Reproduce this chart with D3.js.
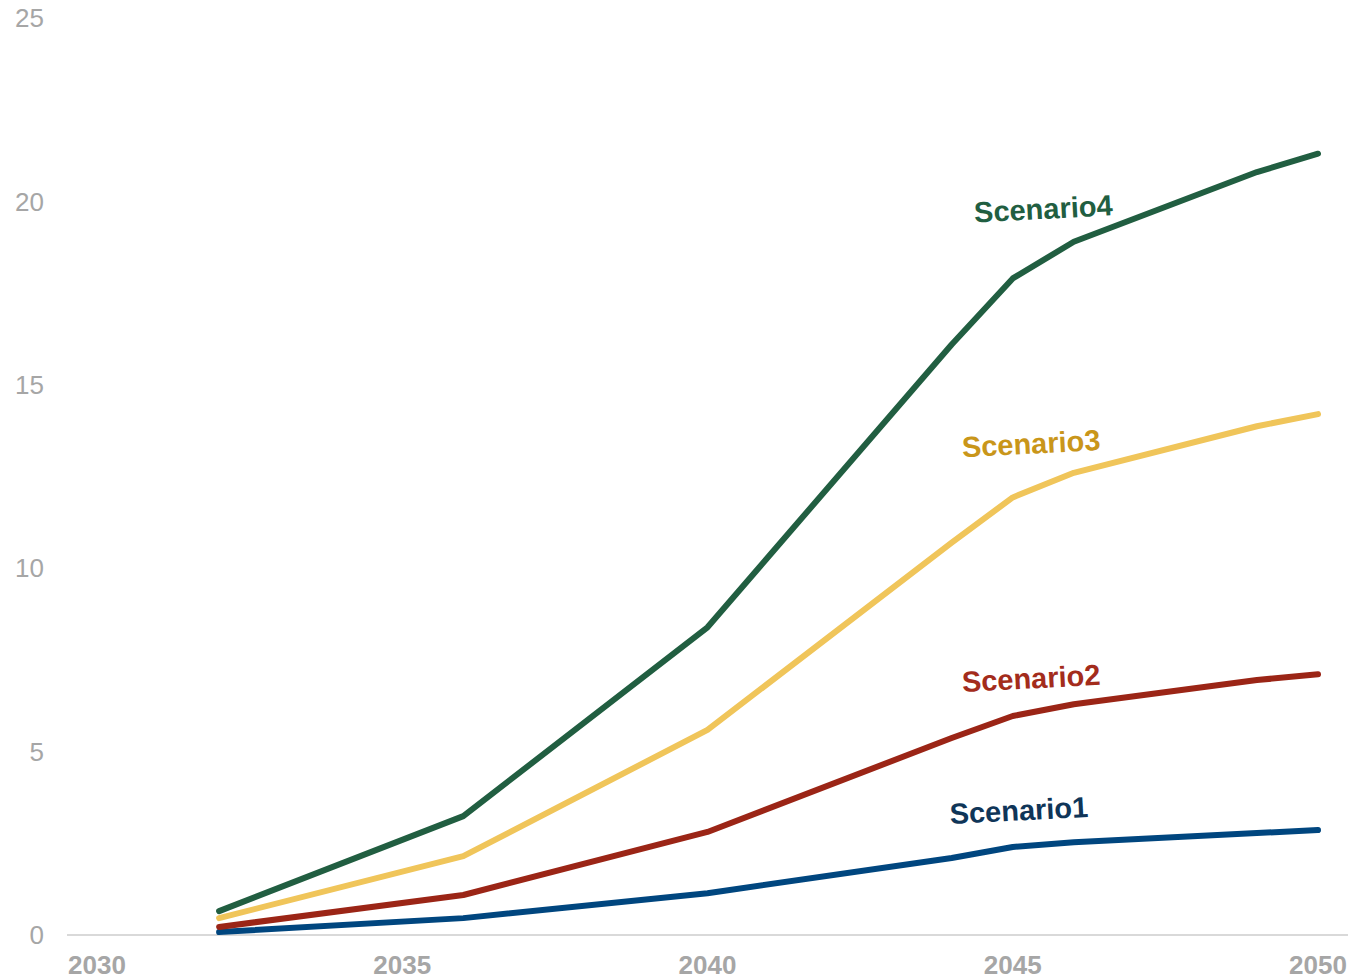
<!DOCTYPE html>
<html lang="en">
<head>
<meta charset="UTF-8">
<title>Scenarios</title>
<script src="https://d3js.org/d3.v7.min.js"></script>
<style>
    body { margin: 0; background: #fff; font-family: 'Liberation Sans', Arial, sans-serif; }
    svg { display: block; }
</style>
</head>
<body>
<svg id="chart" width="1350" height="978"></svg>
<script>
// Data
const years = [2032, 2036, 2040, 2044, 2045, 2046, 2049, 2050];
const scenario1 = [0.08, 0.46, 1.14, 2.1, 2.4, 2.53, 2.78, 2.86];
const scenario2 = [0.22, 1.09, 2.81, 5.37, 5.97, 6.29, 6.95, 7.11];
const scenario3 = [0.46, 2.15, 5.59, 10.7, 11.93, 12.6, 13.87, 14.2];
const scenario4 = [0.65, 3.24, 8.39, 16.1, 17.9, 18.9, 20.8, 21.3];
const xTicks = [2030, 2035, 2040, 2045, 2050];
const yTicks = [0, 5, 10, 15, 20, 25];

const series = [
    { name: "Scenario1", values: scenario1, line: "#00467f", text: "#0f3558", labelYear: 2045.1, labelValue: 3.4 },
    { name: "Scenario2", values: scenario2, line: "#9b2516", text: "#a32c1c", labelYear: 2045.3, labelValue: 7.0 },
    { name: "Scenario3", values: scenario3, line: "#f0c55a", text: "#c9961a", labelYear: 2045.3, labelValue: 13.4 },
    { name: "Scenario4", values: scenario4, line: "#215e41", text: "#215e41", labelYear: 2045.5, labelValue: 19.8 }
];

const svg = d3.select("#chart");
const x = d3.scaleLinear().domain([2030, 2050]).range([97, 1318]);
const y = d3.scaleLinear().domain([0, 25]).range([935, 18]);

// baseline
svg.append("line")
    .attr("x1", 67).attr("x2", 1348)
    .attr("y1", y(0)).attr("y2", y(0))
    .attr("stroke", "#d9d9d9").attr("stroke-width", 2);

// y tick labels
svg.selectAll(".ytick")
    .data(yTicks)
    .enter().append("text")
    .attr("class", "ytick")
    .attr("x", 44)
    .attr("y", d => y(d))
    .attr("dy", "0.35em")
    .attr("text-anchor", "end")
    .attr("fill", "#a6a6a6")
    .style("font-size", "26px")
    .text(d => d);

// x tick labels
svg.selectAll(".xtick")
    .data(xTicks)
    .enter().append("text")
    .attr("class", "xtick")
    .attr("x", d => x(d))
    .attr("y", 974)
    .attr("text-anchor", "middle")
    .attr("fill", "#a6a6a6")
    .style("font-size", "26px")
    .style("font-weight", "bold")
    .text(d => d);

const line = d3.line()
    .x((d, i) => x(years[i]))
    .y(d => y(d));

svg.selectAll(".series")
    .data(series)
    .enter().append("path")
    .attr("class", "series")
    .attr("d", d => line(d.values))
    .attr("fill", "none")
    .attr("stroke", d => d.line)
    .attr("stroke-width", 6)
    .attr("stroke-linecap", "round")
    .attr("stroke-linejoin", "round");

// labels, slightly tilted like the original
svg.selectAll(".label")
    .data(series)
    .enter().append("text")
    .attr("class", "label")
    .attr("transform", d => `translate(${x(d.labelYear)},${y(d.labelValue)}) rotate(-3)`)
    .attr("text-anchor", "middle")
    .attr("dy", "0.35em")
    .attr("fill", d => d.text)
    .style("font-size", "29px")
    .style("font-weight", "bold")
    .text(d => d.name);
</script>
</body>
</html>
